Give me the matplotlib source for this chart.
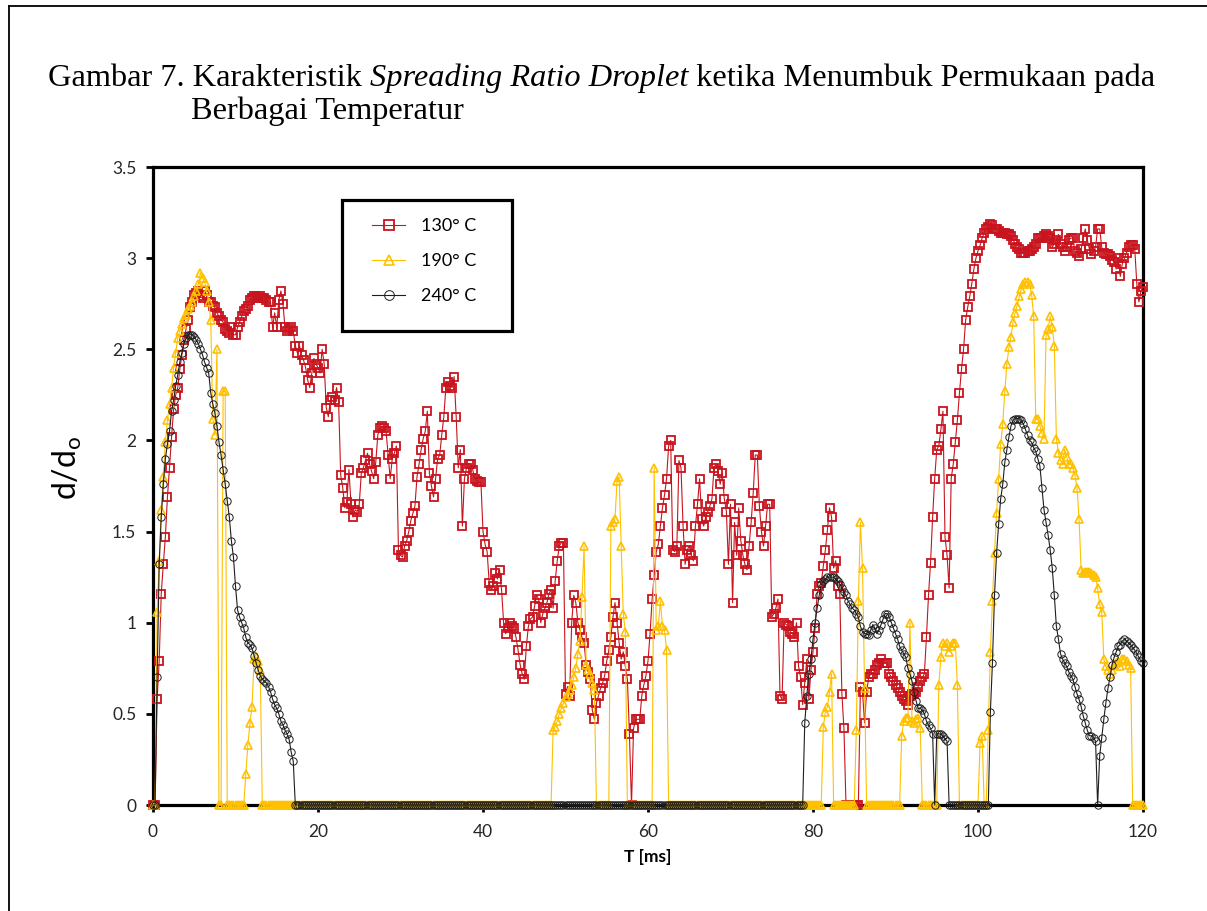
import numpy as np
import matplotlib
matplotlib.use("Agg")
import matplotlib.pyplot as plt
from matplotlib.lines import Line2D
from matplotlib.patches import Rectangle

# ---------------- data (time step 0.25 ms, 0 .. 120 ms) ----------------
T_MS = np.arange(0, 120.001, 0.25)

S130 = [
    0, 0, 0.58, 0.79, 1.16, 1.32, 1.47, 1.69, 1.85, 2.02,
    2.17, 2.25, 2.29, 2.39, 2.47, 2.55, 2.61, 2.66, 2.73, 2.76,
    2.80, 2.81, 2.82, 2.79, 2.78, 2.82, 2.80, 2.76, 2.76, 2.74,
    2.73, 2.70, 2.68, 2.66, 2.65, 2.61, 2.60, 2.59, 2.62, 2.58,
    2.58, 2.62, 2.65, 2.68, 2.71, 2.72, 2.74, 2.77, 2.78, 2.79,
    2.79, 2.78, 2.79, 2.78, 2.78, 2.77, 2.76, 2.76, 2.62, 2.70,
    2.62, 2.77, 2.82, 2.75, 2.62, 2.60, 2.61, 2.62, 2.60, 2.52,
    2.48, 2.52, 2.47, 2.44, 2.40, 2.33, 2.29, 2.37, 2.45, 2.42,
    2.40, 2.37, 2.50, 2.42, 2.18, 2.13, 2.22, 2.24, 2.22, 2.29,
    2.21, 1.81, 1.74, 1.63, 1.66, 1.84, 1.65, 1.58, 1.62, 1.61,
    1.65, 1.82, 1.85, 1.89, 1.93, 1.87, 1.83, 1.79, 1.88, 2.03,
    2.07, 2.08, 2.07, 2.05, 1.92, 1.79, 1.90, 1.93, 1.97, 1.40,
    1.37, 1.36, 1.42, 1.45, 1.50, 1.56, 1.60, 1.64, 1.80, 1.87,
    1.95, 2.01, 2.05, 2.16, 1.82, 1.75, 1.69, 1.79, 1.90, 1.92,
    2.03, 2.13, 2.29, 2.32, 2.30, 2.29, 2.35, 2.13, 1.85, 1.95,
    1.53, 1.79, 1.85, 1.87, 1.87, 1.84, 1.79, 1.78, 1.77, 1.77,
    1.50, 1.43, 1.39, 1.22, 1.18, 1.20, 1.27, 1.24, 1.29, 1.18,
    1.00, 0.94, 0.97, 1.00, 0.98, 0.97, 0.92, 0.85, 0.77, 0.72,
    0.69, 0.87, 0.98, 1.02, 1.03, 1.09, 1.15, 1.13, 1.00, 1.05,
    1.08, 1.11, 1.16, 1.18, 1.08, 1.23, 1.34, 1.42, 1.44, 1.44,
    0.61, 0.65, 0.60, 1.00, 1.15, 1.11, 1.00, 0.96, 0.92, 0.89,
    0.77, 0.73, 0.69, 0.52, 0.47, 0.56, 0.60, 0.64, 0.67, 0.71,
    0.79, 0.85, 0.92, 1.03, 1.11, 1.00, 0.89, 0.80, 0.84, 0.76,
    0.69, 0.39, 0, 0.42, 0.47, 0.47, 0.47, 0.60, 0.66, 0.71,
    0.79, 0.94, 1.13, 1.26, 1.39, 1.43, 1.53, 1.63, 1.70, 1.79,
    1.97, 2.00, 1.40, 1.39, 1.42, 1.89, 1.85, 1.53, 1.32, 1.40,
    1.42, 1.37, 1.34, 1.53, 1.65, 1.79, 1.57, 1.53, 1.58, 1.61,
    1.64, 1.68, 1.85, 1.87, 1.83, 1.76, 1.82, 1.68, 1.61, 1.32,
    1.65, 1.11, 1.55, 1.37, 1.63, 1.45, 1.37, 1.32, 1.29, 1.42,
    1.55, 1.71, 1.92, 1.92, 1.64, 1.50, 1.42, 1.53, 1.65, 1.65,
    1.03, 1.05, 1.08, 1.13, 0.60, 0.58, 1.00, 0.99, 0.98, 0.95,
    0.94, 0.92, 1.00, 0.76, 0.70, 0.55, 0.67, 0.80, 0.58, 0.74,
    0.84, 0.97, 1.16, 1.20, 1.22, 1.31, 1.40, 1.51, 1.63, 1.58,
    1.30, 1.34, 1.20, 1.16, 0.61, 0.42, 0, 0, 0, 0,
    0, 0, 0, 0.65, 0.62, 0.45, 0.62, 0.70, 0.72, 0.72,
    0.74, 0.77, 0.78, 0.80, 0.78, 0.78, 0.78, 0.72, 0.70, 0.68,
    0.66, 0.64, 0.62, 0.60, 0.58, 0.57, 0.55, 0.60, 0.61, 0.61,
    0.62, 0.65, 0.68, 0.70, 0.72, 0.92, 1.15, 1.33, 1.58, 1.79,
    1.95, 1.97, 2.06, 2.16, 1.47, 1.37, 1.19, 1.79, 1.87, 1.99,
    2.11, 2.26, 2.39, 2.50, 2.66, 2.73, 2.79, 2.86, 2.94, 3.00,
    3.04, 3.07, 3.11, 3.14, 3.16, 3.17, 3.19, 3.18, 3.16, 3.16,
    3.15, 3.14, 3.14, 3.14, 3.13, 3.13, 3.12, 3.10, 3.08, 3.06,
    3.05, 3.03, 3.03, 3.03, 3.04, 3.04, 3.05, 3.06, 3.08, 3.11,
    3.11, 3.11, 3.12, 3.13, 3.12, 3.11, 3.06, 3.08, 3.10, 3.13,
    3.08, 3.06, 3.04, 3.06, 3.10, 3.11, 3.11, 3.04, 3.03, 3.01,
    3.05, 3.11, 3.16, 3.10, 3.05, 3.02, 3.04, 3.06, 3.16, 3.16,
    3.06, 3.03, 3.02, 3.02, 3.01, 2.99, 2.98, 2.94, 3.00, 2.90,
    2.97, 3.00, 3.03, 3.06, 3.07, 3.07, 3.05, 2.86, 2.76, 2.82,
    2.84,
]

S190 = [
    0, 0, 1.06, 1.34, 1.62, 1.80, 1.99, 2.11, 2.20, 2.29,
    2.40, 2.48, 2.56, 2.60, 2.64, 2.67, 2.69, 2.72, 2.74, 2.76,
    2.79, 2.82, 2.86, 2.92, 2.89, 2.87, 2.82, 2.76, 2.66, 2.12,
    2.03, 2.50, 0, 0, 2.27, 2.27, 0, 0, 0, 0,
    0, 0, 0, 0, 0, 0.17, 0.33, 0.45, 0.54, 0.80,
    0.81, 0.79, 0.74, 0, 0, 0, 0, 0, 0, 0,
    0, 0, 0, 0, 0, 0, 0, 0, 0, 0,
    0, 0, 0, 0, 0, 0, 0, 0, 0, 0,
    0, 0, 0, 0, 0, 0, 0, 0, 0, 0,
    0, 0, 0, 0, 0, 0, 0, 0, 0, 0,
    0, 0, 0, 0, 0, 0, 0, 0, 0, 0,
    0, 0, 0, 0, 0, 0, 0, 0, 0, 0,
    0, 0, 0, 0, 0, 0, 0, 0, 0, 0,
    0, 0, 0, 0, 0, 0, 0, 0, 0, 0,
    0, 0, 0, 0, 0, 0, 0, 0, 0, 0,
    0, 0, 0, 0, 0, 0, 0, 0, 0, 0,
    0, 0, 0, 0, 0, 0, 0, 0, 0, 0,
    0, 0, 0, 0, 0, 0, 0, 0, 0, 0,
    0, 0, 0, 0, 0, 0, 0, 0, 0, 0,
    0, 0, 0, 0, 0.41, 0.43, 0.46, 0.50, 0.53, 0.56,
    0.59, 0.61, 0.63, 0.66, 0.70, 0.75, 0.83, 0.90, 1.14, 1.42,
    0.77, 0.74, 0.72, 0.67, 0.63, 0, 0, 0, 0, 0,
    0, 0, 1.53, 1.55, 1.57, 1.78, 1.80, 1.42, 1.05, 0.95,
    0, 0, 0, 0, 0, 0, 0, 0, 0, 0,
    0, 0, 0, 1.85, 0.96, 0.98, 1.12, 0.98, 0.96, 0.85,
    0, 0, 0, 0, 0, 0, 0, 0, 0, 0,
    0, 0, 0, 0, 0, 0, 0, 0, 0, 0,
    0, 0, 0, 0, 0, 0, 0, 0, 0, 0,
    0, 0, 0, 0, 0, 0, 0, 0, 0, 0,
    0, 0, 0, 0, 0, 0, 0, 0, 0, 0,
    0, 0, 0, 0, 0, 0, 0, 0, 0, 0,
    0, 0, 0, 0, 0, 0, 0, 0, 0, 0,
    0, 0, 0, 0, 0, 0.43, 0.51, 0.54, 0.62, 0.72,
    0, 0, 0, 0, 0, 0, 0, 0, 0, 0,
    0, 0.41, 1.12, 1.55, 1.30, 0.64, 0, 0, 0, 0,
    0, 0, 0, 0, 0, 0, 0, 0, 0, 0,
    0, 0, 0, 0.38, 0.46, 0.48, 0.48, 1.00, 0.46, 0.45,
    0.47, 0.48, 0.42, 0, 0, 0, 0, 0, 0, 0,
    0, 0.66, 0.81, 0.89, 0.87, 0.89, 0.84, 0.87, 0.89, 0.89,
    0.66, 0, 0, 0, 0, 0, 0, 0, 0, 0,
    0, 0.34, 0.38, 0, 0, 0.41, 0.84, 1.12, 1.38, 1.60,
    1.79, 1.98, 2.09, 2.27, 2.42, 2.51, 2.57, 2.65, 2.70, 2.74,
    2.79, 2.83, 2.86, 2.87, 2.87, 2.86, 2.80, 2.68, 2.12, 2.12,
    2.08, 2.04, 2.01, 2.58, 2.61, 2.68, 2.62, 2.52, 2.01, 1.93,
    1.89, 1.87, 1.95, 1.91, 1.87, 1.87, 1.85, 1.81, 1.74, 1.57,
    1.29, 1.27, 1.28, 1.28, 1.28, 1.27, 1.26, 1.25, 1.19, 1.10,
    1.06, 0.80, 0.76, 0.74, 0.72, 0.74, 0.77, 0.78, 0.79, 0.76,
    0.80, 0.80, 0.79, 0.77, 0.75, 0, 0, 0, 0, 0,
    0,
]

S240 = [
    0, 0, 0.70, 1.32, 1.58, 1.76, 1.90, 1.98, 2.05, 2.16,
    2.22, 2.30, 2.36, 2.43, 2.48, 2.53, 2.56, 2.58, 2.58, 2.58,
    2.57, 2.55, 2.53, 2.50, 2.47, 2.43, 2.40, 2.37, 2.26, 2.20,
    2.15, 2.08, 1.99, 1.92, 1.84, 1.76, 1.67, 1.58, 1.45, 1.36,
    1.20, 1.07, 1.03, 1.00, 0.97, 0.92, 0.89, 0.88, 0.86, 0.82,
    0.78, 0.74, 0.71, 0.69, 0.68, 0.67, 0.65, 0.62, 0.58, 0.55,
    0.53, 0.50, 0.46, 0.44, 0.41, 0.39, 0.36, 0.29, 0.24, 0,
    0, 0, 0, 0, 0, 0, 0, 0, 0, 0,
    0, 0, 0, 0, 0, 0, 0, 0, 0, 0,
    0, 0, 0, 0, 0, 0, 0, 0, 0, 0,
    0, 0, 0, 0, 0, 0, 0, 0, 0, 0,
    0, 0, 0, 0, 0, 0, 0, 0, 0, 0,
    0, 0, 0, 0, 0, 0, 0, 0, 0, 0,
    0, 0, 0, 0, 0, 0, 0, 0, 0, 0,
    0, 0, 0, 0, 0, 0, 0, 0, 0, 0,
    0, 0, 0, 0, 0, 0, 0, 0, 0, 0,
    0, 0, 0, 0, 0, 0, 0, 0, 0, 0,
    0, 0, 0, 0, 0, 0, 0, 0, 0, 0,
    0, 0, 0, 0, 0, 0, 0, 0, 0, 0,
    0, 0, 0, 0, 0, 0, 0, 0, 0, 0,
    0, 0, 0, 0, 0, 0, 0, 0, 0, 0,
    0, 0, 0, 0, 0, 0, 0, 0, 0, 0,
    0, 0, 0, 0, 0, 0, 0, 0, 0, 0,
    0, 0, 0, 0, 0, 0, 0, 0, 0, 0,
    0, 0, 0, 0, 0, 0, 0, 0, 0, 0,
    0, 0, 0, 0, 0, 0, 0, 0, 0, 0,
    0, 0, 0, 0, 0, 0, 0, 0, 0, 0,
    0, 0, 0, 0, 0, 0, 0, 0, 0, 0,
    0, 0, 0, 0, 0, 0, 0, 0, 0, 0,
    0, 0, 0, 0, 0, 0, 0, 0, 0, 0,
    0, 0, 0, 0, 0, 0, 0, 0, 0, 0,
    0, 0, 0, 0, 0, 0, 0.45, 0.60, 0.72, 0.80,
    0.91, 1.00, 1.08, 1.15, 1.21, 1.23, 1.24, 1.25, 1.25, 1.25,
    1.25, 1.24, 1.23, 1.21, 1.19, 1.17, 1.15, 1.12, 1.10, 1.08,
    1.07, 1.05, 1.03, 0.98, 0.95, 0.94, 0.94, 0.93, 0.96, 0.99,
    0.97, 0.94, 0.96, 0.99, 1.02, 1.05, 1.05, 1.03, 1.00, 0.97,
    0.94, 0.91, 0.87, 0.85, 0.83, 0.81, 0.75, 0.72, 0.68, 0.62,
    0.57, 0.53, 0.53, 0.52, 0.50, 0.46, 0.44, 0.42, 0.39, 0,
    0.39, 0.39, 0.39, 0.38, 0.36, 0.35, 0, 0, 0, 0,
    0, 0, 0, 0, 0, 0, 0, 0, 0, 0,
    0, 0, 0, 0, 0, 0, 0.51, 0.78, 1.15, 1.38,
    1.54, 1.68, 1.76, 1.88, 1.95, 2.02, 2.08, 2.11, 2.12, 2.12,
    2.12, 2.11, 2.09, 2.06, 2.03, 2.00, 1.99, 1.96, 1.94, 1.90,
    1.86, 1.74, 1.62, 1.55, 1.48, 1.40, 1.30, 1.15, 0.98, 0.91,
    0.83, 0.80, 0.78, 0.76, 0.73, 0.71, 0.69, 0.65, 0.61, 0.58,
    0.54, 0.49, 0.45, 0.41, 0.38, 0.38, 0.37, 0.35, 0, 0.27,
    0.37, 0.47, 0.56, 0.64, 0.70, 0.77, 0.81, 0.84, 0.87, 0.88,
    0.90, 0.91, 0.90, 0.89, 0.88, 0.86, 0.85, 0.83, 0.81, 0.79,
    0.78,
]

SERIES_LABELS = ["130\u00b0 C", "190\u00b0 C", "240\u00b0 C"]
X_TICKS = [0, 20, 40, 60, 80, 100, 120]
Y_TICKS = [0, 0.5, 1, 1.5, 2, 2.5, 3, 3.5]
Y_TICK_LABELS = ["0", "0.5", "1", "1.5", "2", "2.5", "3", "3.5"]
TITLE_1 = [("Gambar 7. Karakteristik ", "normal"),
           ("Spreading Ratio Droplet", "italic"),
           (" ketika Menumbuk Permukaan pada", "normal")]
TITLE_2 = "Berbagai Temperatur"
X_LABEL = "T [ms]"
Y_LABEL = r"d/d$_\mathregular{o}$"

for name, s in (("130", S130), ("190", S190), ("240", S240)):
    if len(s) != len(T_MS):
        raise ValueError(f"series {name} has {len(s)} values, expected {len(T_MS)}")

# ---------------- figure ----------------
W, H = 1207, 911
fig = plt.figure(figsize=(W / 100, H / 100), dpi=100)
fig.patch.set_facecolor("white")

SANS = ["Lato", "DejaVu Sans"]
SERIF = ["Liberation Serif", "DejaVu Serif"]

# outer frame (left & top edges visible)
fig.add_artist(Line2D([9 / W, 9 / W], [0, 1 - 6 / H], transform=fig.transFigure,
                      color="black", lw=1.3))
fig.add_artist(Line2D([9 / W, 1], [1 - 6 / H, 1 - 6 / H], transform=fig.transFigure,
                      color="black", lw=1.3))

AX_L, AX_R, AX_T, AX_B = 153, 1143, 167, 805
AXW, AXH = AX_R - AX_L, AX_B - AX_T
ax = fig.add_axes([AX_L / W, 1 - AX_B / H, AXW / W, AXH / H])

RED = "#C8141E"
YEL = "#FFC000"
BLK = "#1E1E1E"

ax.plot(T_MS, S130, color=RED, lw=0.8, marker="s", ms=6.4, mfc="none", mec=RED,
        mew=1.3, clip_on=False, zorder=3, label=SERIES_LABELS[0])
ax.plot(T_MS, S190, color=YEL, lw=0.8, marker="^", ms=6.4, mfc="none", mec=YEL,
        mew=1.2, clip_on=False, zorder=3.1, label=SERIES_LABELS[1])
ax.plot(T_MS, S240, color=BLK, lw=0.8, marker="o", ms=5.3, mfc="none", mec=BLK,
        mew=0.7, clip_on=False, zorder=3.2, label=SERIES_LABELS[2])

ax.set_xlim(0, 120)
ax.set_ylim(0, 3.5)
ax.set_xticks(X_TICKS)
ax.set_xticklabels([str(v) for v in X_TICKS])
ax.set_yticks(Y_TICKS)
ax.set_yticklabels(Y_TICK_LABELS)
for sp in ax.spines.values():
    sp.set_linewidth(2.3)
    sp.set_color("black")
ax.tick_params(direction="out", length=5, width=2.0, pad=7, labelsize=12.5,
               labelcolor="#262626")
ax.tick_params(axis="x", pad=9)
for lab in ax.get_xticklabels() + ax.get_yticklabels():
    lab.set_fontfamily(SANS)

ax.set_xlabel(X_LABEL, fontsize=12.5, fontweight="bold", family=SANS)
ax.xaxis.set_label_coords(0.5, -(849 - AX_B) / AXH)
ax.set_ylabel(Y_LABEL, fontsize=23, family=SANS)
ax.yaxis.set_label_coords(-(AX_L - 84) / AXW, (AX_B - 468) / AXH)

# legend: frame drawn as its own box, entries placed inside
box_l, box_t, box_r, box_b = 342, 200, 512, 331
ax.add_patch(Rectangle(((box_l - AX_L) / AXW, (AX_B - box_b) / AXH),
                       (box_r - box_l) / AXW, (box_b - box_t) / AXH,
                       transform=ax.transAxes, facecolor="white", edgecolor="black",
                       lw=2.3, zorder=4, clip_on=False))
leg = ax.legend(loc="upper left",
                bbox_to_anchor=((372 - AX_L) / AXW, (AX_B - 218) / AXH),
                frameon=False, borderpad=0, borderaxespad=0,
                labelspacing=1.05, handlelength=1.85, handletextpad=0.85,
                prop={"family": SANS, "size": 13})
leg.set_zorder(6)
for h in leg.legend_handles:
    h.set_markersize(7)

# ---------------- title (mixed roman / italic) ----------------
renderer = fig.canvas.get_renderer()
fs = 23.3
y1 = 1 - 86 / H
xpos = 48 / W
for txt, style in TITLE_1:
    t = fig.text(xpos, y1, txt, fontsize=fs, family=SERIF, style=style,
                 va="baseline", ha="left")
    bb = t.get_window_extent(renderer=renderer)
    xpos = bb.x1 / W
fig.text(191 / W, 1 - 119 / H, TITLE_2, fontsize=fs, family=SERIF,
         va="baseline", ha="left")

fig.savefig("out.png", dpi=100)
